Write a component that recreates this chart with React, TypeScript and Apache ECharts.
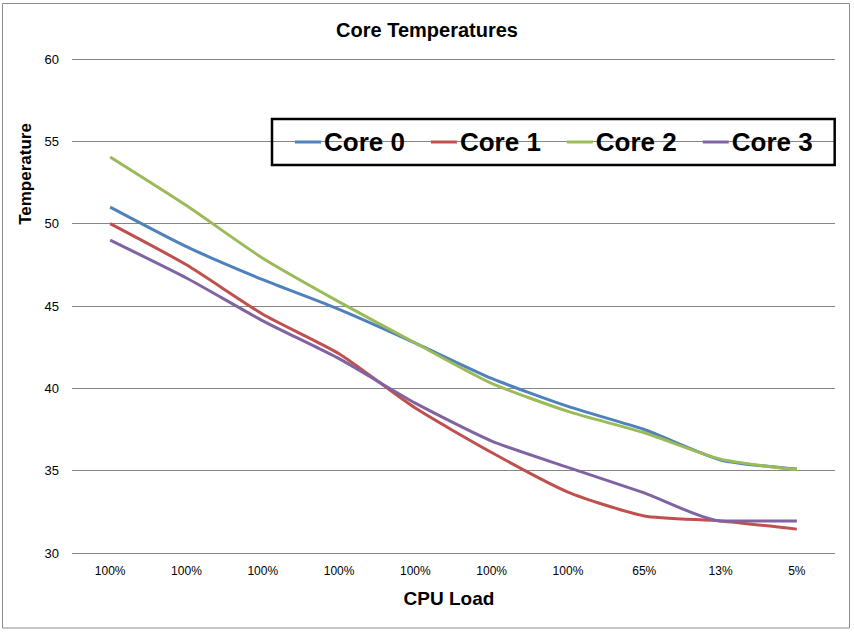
import React, { useEffect, useRef } from "react";
import * as echarts from "echarts";

const categories = ["100%", "100%", "100%", "100%", "100%", "100%", "100%", "65%", "13%", "5%"];
const core0 = [51.0, 48.6, 46.6, 44.8, 42.75, 40.6, 38.9, 37.5, 35.65, 35.1];
const core1 = [50.0, 47.5, 44.5, 42.1, 38.8, 36.1, 33.7, 32.25, 31.95, 31.45];
const core2 = [54.05, 51.1, 47.9, 45.25, 42.75, 40.3, 38.6, 37.3, 35.7, 35.05];
const core3 = [49.0, 46.7, 44.1, 41.8, 39.1, 36.8, 35.2, 33.65, 31.95, 31.95];
const seriesNames = ["Core 0", "Core 1", "Core 2", "Core 3"];
const colors = ["#4F81BD", "#C0504D", "#9BBB59", "#8064A2"];

export default function App() {
  const ref = useRef<HTMLDivElement>(null);
  useEffect(() => {
    if (!ref.current) return;
    const chart = echarts.init(ref.current, undefined, { renderer: "svg" });
    const font = "'Liberation Sans', Arial, sans-serif";
    const data = [core0, core1, core2, core3];
    chart.setOption({
      animation: false,
      backgroundColor: "#ffffff",
      textStyle: { fontFamily: font },
      title: {
        text: "Core Temperatures",
        left: "center",
        top: 15,
        textStyle: { fontSize: 20, fontWeight: "bold", color: "#000", fontFamily: font },
      },
      legend: {
        left: 272,
        top: 119,
        orient: "horizontal",
        borderColor: "#000",
        borderWidth: 2.5,
        padding: [10, 22, 10, 23],
        itemGap: 26,
        itemWidth: 26,
        itemHeight: 3,
        icon: "rect",
        data: seriesNames,
        textStyle: { fontSize: 26, fontWeight: "bold", color: "#000", fontFamily: font, padding: [0, 0, 0, -2] },
      },
      grid: { left: 72, right: 19, top: 59, bottom: 79, containLabel: false },
      xAxis: {
        type: "category",
        data: categories,
        boundaryGap: true,
        axisLine: { show: false },
        axisTick: { show: false },
        axisLabel: { color: "#000", fontSize: 12, margin: 12, fontFamily: font },
      },
      yAxis: {
        type: "value",
        min: 30,
        max: 60,
        interval: 5,
        axisLine: { show: false },
        axisTick: { show: false },
        axisLabel: { color: "#000", fontSize: 13, margin: 13, fontFamily: font },
        splitLine: { lineStyle: { color: "#868686", width: 1 } },
      },
      graphic: [
        {
          type: "rect",
          shape: { x: 2.5, y: 3.5, width: 847, height: 624.5 },
          style: { fill: "none", stroke: "#8c8c8c", lineWidth: 1 },
          silent: true,
        },
        {
          type: "text",
          x: 25,
          y: 174,
          rotation: Math.PI / 2,
          style: {
            text: "Temperature",
            fontSize: 17,
            fontWeight: "bold",
            fill: "#000",
            fontFamily: font,
            textAlign: "center",
            textVerticalAlign: "middle",
          },
        },
        {
          type: "text",
          x: 449,
          y: 598,
          style: {
            text: "CPU Load",
            fontSize: 19,
            fontWeight: "bold",
            fill: "#000",
            fontFamily: font,
            textAlign: "center",
            textVerticalAlign: "middle",
          },
        },
      ],
      series: seriesNames.map((name, i) => ({
        name,
        type: "line",
        data: data[i],
        smooth: 0.2,
        showSymbol: false,
        symbol: "none",
        lineStyle: { color: colors[i], width: 3 },
        itemStyle: { color: colors[i] },
      })),
    });
    return () => chart.dispose();
  }, []);
  return (
    <div
      ref={ref}
      style={{ position: "fixed", left: 0, top: 0, width: 854, height: 632 }}
    />
  );
}
